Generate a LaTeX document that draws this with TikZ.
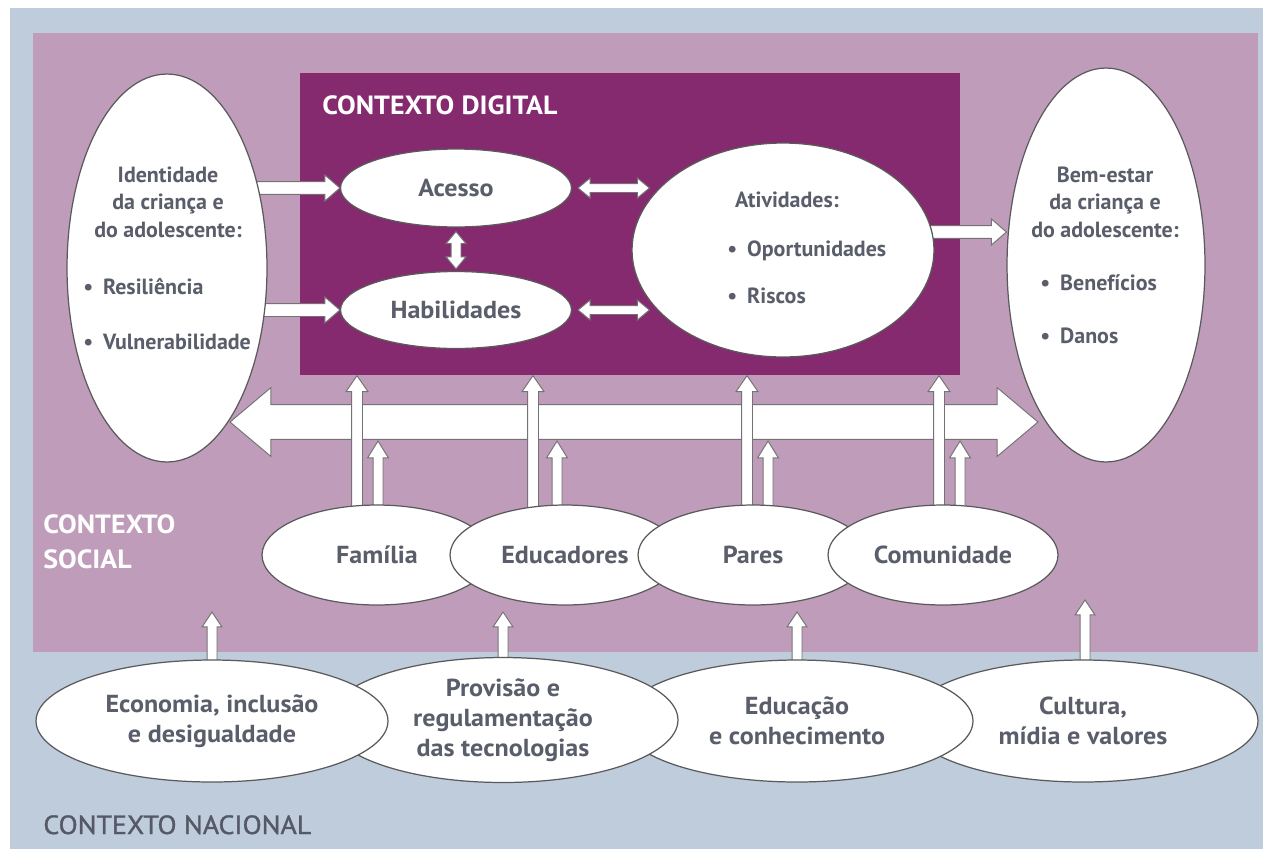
\documentclass[tikz,border=0pt]{standalone}
\usepackage{fontspec}
\setmainfont{PT Sans}
\newfontfamily\lblfont{PT Sans}[FakeStretch=1.06]
\usetikzlibrary{shapes.geometric,calc}
\definecolor{natbg}{HTML}{BFCCDC}
\definecolor{socbg}{HTML}{BF9DBA}
\definecolor{digbg}{HTML}{862A6F}
\definecolor{txtc}{HTML}{5A5D6A}
\definecolor{edgec}{HTML}{5A5A5A}
\pgfdeclarelayer{bg}
\pgfdeclarelayer{arr}
\pgfsetlayers{bg,arr,main}
% single-headed fat arrow: start, end, half shaft, half head, head length (in px)
\newcommand\fatarrow[5]{%
  \pgfmathsetmacro\faS{#3*0.5669}\pgfmathsetmacro\faH{#4*0.5669}\pgfmathsetmacro\faL{#5*0.5669}%
  \coordinate (fas) at (#1);
  \coordinate (fae) at (#2);
  \coordinate (fab) at ($(fae)!\faL pt!(fas)$);
  \draw[fatarr] ($(fas)!\faS pt!90:(fae)$) -- ($(fab)!\faS pt!-90:(fas)$) -- ($(fab)!\faH pt!-90:(fas)$) -- (fae)
     -- ($(fab)!\faH pt!90:(fas)$) -- ($(fab)!\faS pt!90:(fas)$) -- ($(fas)!\faS pt!-90:(fae)$) -- cycle;}
% double-headed fat arrow
\newcommand\fatdarrow[5]{%
  \pgfmathsetmacro\faS{#3*0.5669}\pgfmathsetmacro\faH{#4*0.5669}\pgfmathsetmacro\faL{#5*0.5669}%
  \coordinate (fas) at (#1);
  \coordinate (fae) at (#2);
  \coordinate (faa) at ($(fas)!\faL pt!(fae)$);
  \coordinate (fab) at ($(fae)!\faL pt!(fas)$);
  \draw[fatarr] (fas) -- ($(faa)!\faH pt!90:(fae)$) -- ($(faa)!\faS pt!90:(fae)$) -- ($(fab)!\faS pt!-90:(fas)$)
     -- ($(fab)!\faH pt!-90:(fas)$) -- (fae) -- ($(fab)!\faH pt!90:(fas)$) -- ($(fab)!\faS pt!90:(fas)$)
     -- ($(faa)!\faS pt!-90:(fae)$) -- ($(faa)!\faH pt!-90:(fae)$) -- cycle;}
\begin{document}
\begin{tikzpicture}[x=0.02cm,y=-0.02cm,
  ell/.style={ellipse, draw=edgec, line width=0.7pt, fill=white, inner sep=0pt, text=txtc,
    font=\lblfont\bfseries\fontsize{14}{17}\selectfont, align=center},
  fatarr/.style={draw=edgec!85, fill=white, line width=0.55pt, line join=miter},
  txt/.style={font=\bfseries\fontsize{12.5}{15.6}\selectfont, align=center, inner sep=0pt, text=txtc},
  ctx/.style={font=\lblfont\bfseries\fontsize{15}{19.8}\selectfont, align=left, inner sep=0pt, anchor=base west},
  box/.style={inner sep=0pt, anchor=north west}]
\useasboundingbox (0,0) rectangle (1263,849);
% containers
\begin{pgfonlayer}{bg}
\node[box, fill=natbg, minimum width=25.06cm, minimum height=16.82cm] (nat) at (10,8) {};
\node[box, fill=socbg, minimum width=24.5cm, minimum height=12.38cm] (soc) at (33,33) {};
\node[box, fill=digbg, minimum width=13.2cm, minimum height=6.04cm] (dig) at (300,73) {};
\end{pgfonlayer}
\node[ctx, text=white] at (322,114) {CONTEXTO DIGITAL};
\node[ctx, text=white] at (43,568) {CONTEXTO\\SOCIAL};
\node[ctx, text=txtc!95!black, font=\lblfont\fontsize{15}{19.8}\selectfont\addfontfeature{FakeBold=1.2}] at (43,834) {CONTEXTO NACIONAL};
% main ellipses
\node[ell, minimum width=4cm, minimum height=7.76cm] (ident) at (167,268) {};
\node[ell, minimum width=3.96cm, minimum height=7.88cm] (bem) at (1106,265) {};
\node[ell, minimum width=4.62cm, minimum height=1.56cm] (acc) at (456,188) {Acesso};
\node[ell, minimum width=4.62cm, minimum height=1.54cm] (hab) at (456,310) {Habilidades};
\node[ell, minimum width=6.04cm, minimum height=4.28cm] (atv) at (783,250) {};
% texts in the big ellipses
\node[txt, anchor=base] at (168,182) {Identidade};
\node[txt, anchor=base] at (168,209.5) {da criança e};
\node[txt, anchor=base] at (168,237) {do adolescente:};
\node[txt, anchor=base west] at (83,294) {•\hspace{0.45em}Resiliência};
\node[txt, anchor=base west] at (83,349) {•\hspace{0.45em}Vulnerabilidade};
\node[txt, anchor=base] at (1105,182) {Bem-estar};
\node[txt, anchor=base] at (1105,209.5) {da criança e};
\node[txt, anchor=base] at (1105,237) {do adolescente:};
\node[txt, anchor=base west] at (1040,290) {•\hspace{0.45em}Benefícios};
\node[txt, anchor=base west] at (1040,343) {•\hspace{0.45em}Danos};
\node[txt, anchor=base] at (787,207) {Atividades:};
\node[txt, anchor=base west] at (727,256) {•\hspace{0.45em}Oportunidades};
\node[txt, anchor=base west] at (727,303) {•\hspace{0.45em}Riscos};
% social ellipses (right one on top)
\node[ell, minimum width=4.6cm, minimum height=2cm] (fam) at (377,555) {Família};
\node[ell, minimum width=4.6cm, minimum height=2cm] (edu) at (565,555) {Educadores};
\node[ell, minimum width=4.6cm, minimum height=2cm] (par) at (753,555) {Pares};
\node[ell, minimum width=4.6cm, minimum height=2cm] (com) at (943,555) {Comunidade};
% national ellipses (left one on top)
\node[ell, minimum width=7.0cm, minimum height=2.44cm] (cul) at (1083,721) {Cultura,\\mídia e valores};
\node[ell, minimum width=7.04cm, minimum height=2.44cm] (edn) at (797,721) {Educação\\e conhecimento};
\node[ell, minimum width=7.0cm, minimum height=2.5cm] (pro) at (503,720) {\rule{0pt}{4pt}Provisão e\\regulamentação\\das tecnologias};
\node[ell, minimum width=7.04cm, minimum height=2.44cm] (eco) at (212,721) {Economia, inclusão\\e desigualdade};
% connectors
\begin{pgfonlayer}{arr}
\fatarrow{ident.center |- acc.west}{acc.west}{6.5}{13}{15}
\fatarrow{ident.center |- hab.west}{hab.west}{6.5}{13}{15}
\fatdarrow{$(acc.east)+(6,0)$}{$(atv.west |- acc.east)+(18,0)$}{4.5}{10}{12}
\fatdarrow{$(hab.east)+(6,0)$}{$(atv.west |- hab.east)+(18,0)$}{4.5}{10}{12}
\fatdarrow{$(acc.south)+(0,4)$}{$(hab.north)+(0,-2)$}{5}{10}{12}
\coordinate (atvout) at ($(atv.center)+(0,-18)$);
\fatarrow{atvout}{bem.west |- atvout}{6.5}{13}{15}
% big two-way arrow between identity and well-being
\coordinate (bigL) at (230,422);
\coordinate (bigR) at (1038,422);
\fatdarrow{bigL}{bigR}{17.5}{34.5}{41}
\coordinate (shaftB) at ($(bigL)+(0,19)$);
% social -> digital (tall) and social -> big arrow (short)
\coordinate (famT) at ($(fam.center)+(-20,0)$);
\coordinate (eduT) at ($(edu.center)+(-32,0)$);
\coordinate (parT) at ($(par.center)+(-6,0)$);
\coordinate (comT) at ($(com.center)+(-4,0)$);
\fatarrow{famT}{famT |- dig.south}{5.5}{11}{16}
\fatarrow{eduT}{eduT |- dig.south}{5.5}{11}{16}
\fatarrow{parT}{parT |- dig.south}{5.5}{11}{16}
\fatarrow{comT}{comT |- dig.south}{5.5}{11}{16}
\coordinate (famS) at ($(fam.center)+(1,0)$);
\coordinate (eduS) at ($(edu.center)+(-8,0)$);
\coordinate (parS) at ($(par.center)+(15,0)$);
\coordinate (comS) at ($(com.center)+(17,0)$);
\fatarrow{famS}{famS |- shaftB}{5}{10.5}{17}
\fatarrow{eduS}{eduS |- shaftB}{5}{10.5}{17}
\fatarrow{parS}{parS |- shaftB}{5}{10.5}{17}
\fatarrow{comS}{comS |- shaftB}{5}{10.5}{17}
% national -> social
\coordinate (ecoT) at ($(eco.center)+(0,-109)$);
\coordinate (proT) at ($(pro.center)+(0,-108)$);
\coordinate (ednT) at ($(edn.center)+(0,-109)$);
\coordinate (culT) at ($(cul.center)+(2,-121)$);
\fatarrow{eco.center}{ecoT}{5}{10}{15}
\fatarrow{pro.center}{proT}{5}{10}{15}
\fatarrow{edn.center}{ednT}{5}{10}{15}
\fatarrow{$(cul.center)+(2,0)$}{culT}{5}{10}{15}
\end{pgfonlayer}
\end{tikzpicture}
\end{document}
